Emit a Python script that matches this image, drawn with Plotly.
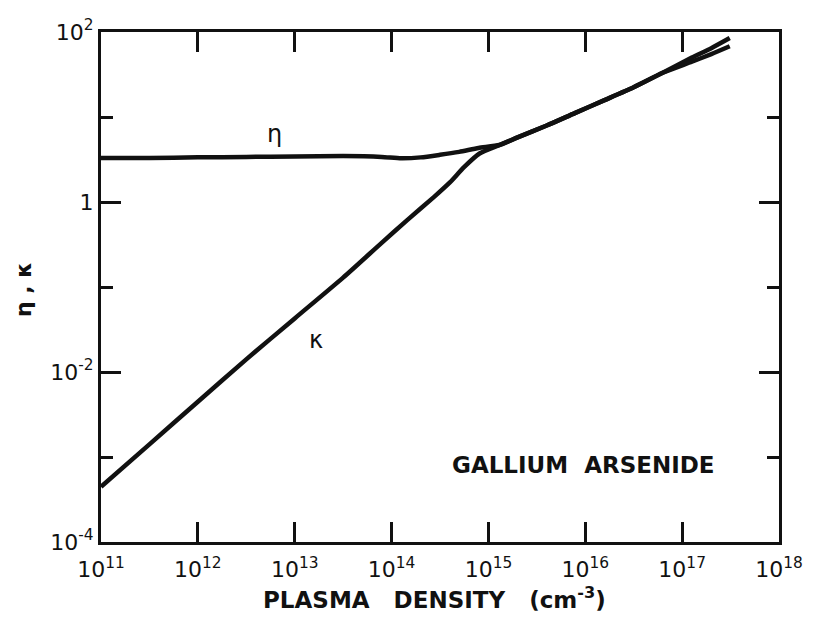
import plotly.graph_objects as go

# Plasma density (cm^-3) and optical constants of GaAs
density_eta = [1e11, 3.16e11, 1e12, 3.16e12, 1e13, 3.16e13, 7.9e13, 1.26e14, 2e14, 3.16e14,
               5e14, 7.9e14, 1.3e15, 2e15, 4e15, 7.9e15, 1.58e16, 3.16e16, 6.3e16,
               1.26e17, 2e17, 3.1e17]
eta = [3.30, 3.30, 3.35, 3.39, 3.43, 3.47, 3.39, 3.27, 3.35, 3.59,
       3.89, 4.32, 4.68, 5.75, 7.94, 11.2, 15.8, 22.4, 33.1,
       50.0, 64.6, 85.0]

density_kappa = [1e11, 3.16e11, 1e12, 3.16e12, 1e13, 3.16e13, 7.9e13, 1.46e14, 2.75e14, 4e14,
                 5.6e14, 8.1e14, 1.3e15, 2e15, 4e15, 7.9e15, 1.58e16, 3.16e16, 6.3e16,
                 1.26e17, 2e17, 3.1e17]
kappa = [4.47e-4, 1.41e-3, 4.47e-3, 1.41e-2, 4.27e-2, 0.129, 0.331, 0.617, 1.15, 1.70,
         2.57, 3.72, 4.68, 5.75, 7.94, 11.2, 15.8, 22.4, 33.1,
         44.7, 55.0, 68.0]

x_ticks = [1e11, 1e12, 1e13, 1e14, 1e15, 1e16, 1e17, 1e18]
x_labels = ["10<sup>11</sup>", "10<sup>12</sup>", "10<sup>13</sup>", "10<sup>14</sup>",
            "10<sup>15</sup>", "10<sup>16</sup>", "10<sup>17</sup>", "10<sup>18</sup>"]
y_ticks = [1e2, 1, 1e-2, 1e-4]
y_labels = ["10<sup>2</sup>", "1", "10<sup>-2</sup>", "10<sup>-4</sup>"]
y_minor = [1e1, 1e-1, 1e-3]

ink = "#111111"
font = "DejaVu Sans"

fig = go.Figure()
fig.add_trace(go.Scatter(x=density_eta, y=eta, mode="lines", name="η",
                         line=dict(color=ink, width=4.5, shape="spline", smoothing=0.6)))
fig.add_trace(go.Scatter(x=density_kappa, y=kappa, mode="lines", name="κ",
                         line=dict(color=ink, width=4.5, shape="spline", smoothing=0.6)))

axis_common = dict(showline=True, linecolor=ink, linewidth=3, mirror="allticks",
                   ticks="inside", tickcolor=ink, tickwidth=2.5, showgrid=False,
                   zeroline=False, tickfont=dict(family=font, size=22, color=ink))

fig.update_xaxes(type="log", range=[11, 18], tickmode="array", tickvals=x_ticks,
                 ticktext=x_labels, ticklen=20, ticklabelstandoff=6, **axis_common)
fig.update_yaxes(type="log", range=[-4, 2], tickmode="array", tickvals=y_ticks,
                 ticktext=y_labels, ticklen=20,
                 minor=dict(tickmode="array", tickvals=y_minor, ticks="inside", ticklen=12,
                            tickwidth=2.5, tickcolor=ink, showgrid=False),
                 **axis_common)

fig.add_annotation(x=12.79, y=0.80, xref="x", yref="y", text="η", showarrow=False,
                   font=dict(family=font, size=24, color=ink))
fig.add_annotation(x=13.22, y=-1.62, xref="x", yref="y", text="κ", showarrow=False,
                   font=dict(family=font, size=24, color=ink))
fig.add_annotation(x=0.711, y=0.151, xref="paper", yref="paper",
                   xanchor="center", yanchor="middle",
                   text="GALLIUM  ARSENIDE", showarrow=False,
                   font=dict(family=font, size=23, color=ink, weight="bold"))
fig.add_annotation(x=0.492, y=-0.110, xref="paper", yref="paper",
                   xanchor="center", yanchor="middle",
                   text="PLASMA   DENSITY   (cm<sup>-3</sup>)", showarrow=False,
                   font=dict(family=font, size=23, color=ink, weight="bold"))
fig.add_annotation(x=-0.115, y=0.494, xref="paper", yref="paper", text="η , κ",
                   xanchor="center", yanchor="middle",
                   textangle=-90, showarrow=False,
                   font=dict(family=font, size=22, color=ink, weight="bold"))

fig.update_layout(width=815, height=623, margin=dict(l=101, r=30, t=32, b=81),
                  paper_bgcolor="white", plot_bgcolor="white", showlegend=False)

fig.write_html("out.html")
